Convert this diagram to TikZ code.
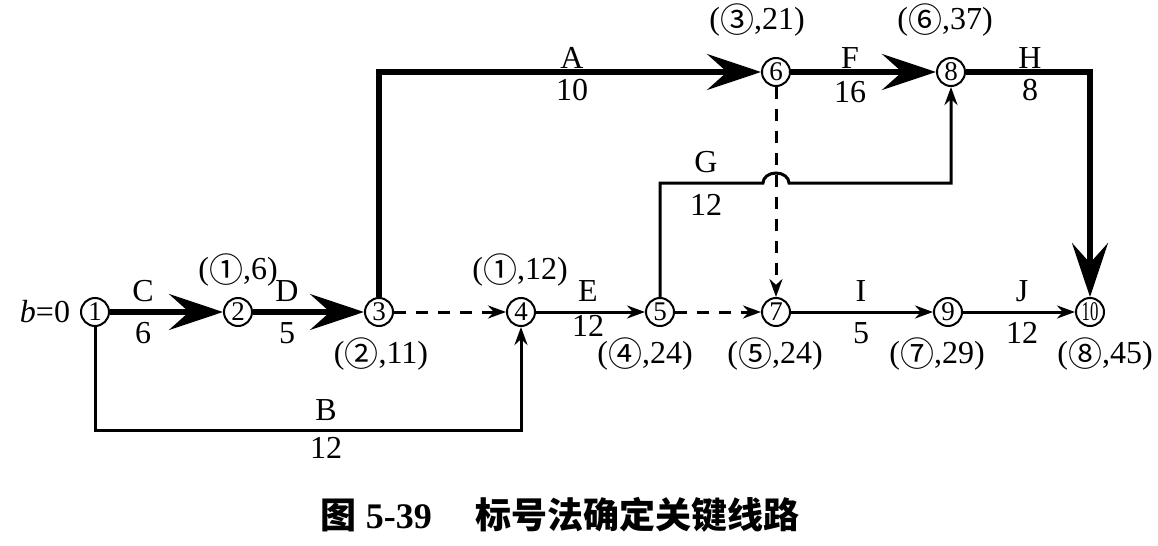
\documentclass[tikz,border=0pt]{standalone}
\usepackage{fontspec}
\setmainfont{Liberation Serif}
\newfontfamily\cjk{Noto Sans CJK SC}
\usetikzlibrary{arrows.meta}
\newcommand\qn[1]{\raisebox{-1.2pt}{\cjk\fontsize{17}{17}\selectfont #1}}

\begin{document}
\begin{tikzpicture}[x=0.5pt,y=-0.5pt,
  every node/.style={font=\fontsize{16}{18}\selectfont},
  ev/.style={circle,draw,line width=1pt,inner sep=0pt,minimum size=14pt,font=\fontsize{13.5}{14}\selectfont},
  act/.style={line width=1.5pt,-{Stealth[length=9pt,width=6.5pt]}},
  crit/.style={line width=2.6pt,-{Stealth[length=27pt,width=18pt,inset=10pt]}},
  dum/.style={act,dash pattern=on 6pt off 5pt}]
\useasboundingbox (0,0) rectangle (1158,546);
\node[ev] (n1) at (95,312) {1};
\node[ev] (n2) at (238,312) {2};
\node[ev] (n3) at (379,312) {3};
\node[ev] (n4) at (521,312) {4};
\node[ev] (n5) at (660,312) {5};
\node[ev] (n7) at (776,312) {7};
\node[ev] (n9) at (948,312) {9};
\node[ev] (n10) at (1090,312) {\scalebox{0.62}[1]{10}};
\node[ev] (n6) at (776,72) {6};
\node[ev] (n8) at (951,72) {8};
\coordinate (g0) at (660,183);
\coordinate (g1) at (763,183);
\coordinate (g2) at (951,183);
\coordinate (b0) at (95,430);
\coordinate (b1) at (521,430);
\draw[crit] (n1) to (n2);
\draw[crit] (n2) to (n3);
\draw[crit] (n3) -- (n3 |- n6) -- (n6);
\draw[crit] (n6) to (n8);
\draw[crit] (n8) -- (n10 |- n8) -- (n10);
\draw[act] (n1) -- (b0) -- (b1) -- (n4);
\draw[act] (n4) to (n5);
\draw[act] (n5) -- (g0) -- (g1) arc[start angle=180,end angle=360,x radius=13,y radius=10] -- (g2) -- (n8);
\draw[act] (n7) to (n9);
\draw[act] (n9) to (n10);
\draw[dum] (n3) to (n4);
\draw[dum] (n5) to (n7);
\draw[dum] (n6) to (n7);
\node (lc) at (143,291) {C};
\node (tc) at (143,333) {6};
\node (ld) at (287,291) {D};
\node (td) at (287,333) {5};
\node (la) at (572,58) {A};
\node (ta) at (572,90) {10};
\node (lf) at (850,58) {F};
\node (tf) at (850,92) {16};
\node (lh) at (1030,58) {H};
\node (th) at (1030,90) {8};
\node (lg) at (706,162) {G};
\node (tg) at (706,205) {12};
\node (le) at (588,291) {E};
\node (te) at (588,326) {12};
\node (li) at (861,291) {I};
\node (ti) at (861,333) {5};
\node (lj) at (1022,291) {J};
\node (tj) at (1022,333) {12};
\node (lb) at (326,410) {B};
\node (tb) at (326,448) {12};
\node (b) at (45,312) {\textit{b}=0};
\node (m2) at (238,270) {(\qn{①},6)};
\node (m3) at (381,354) {(\qn{②},11)};
\node (m4) at (520,270) {(\qn{①},12)};
\node (m5) at (645,354) {(\qn{④},24)};
\node (m7) at (775,354) {(\qn{⑤},24)};
\node (m9) at (937,354) {(\qn{⑦},29)};
\node (m10) at (1105,354) {(\qn{⑧},45)};
\node (m6) at (757,20) {(\qn{③},21)};
\node (m8) at (945,20) {(\qn{⑥},37)};
\node[font=\fontsize{18}{20}\selectfont\bfseries] (cap) at (560,515) {{\cjk 图} 5-39\hspace{1.2em}{\cjk 标号法确定关键线路}};
\end{tikzpicture}
\end{document}
